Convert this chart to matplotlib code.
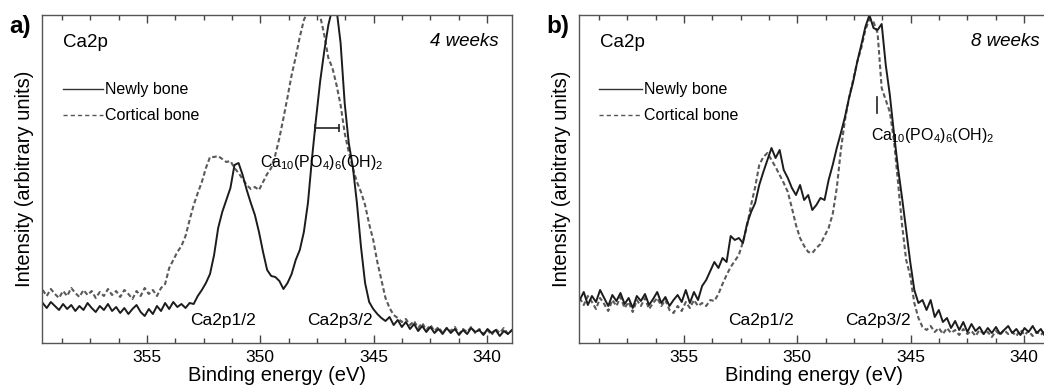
import numpy as np
import matplotlib
matplotlib.use("Agg")
import matplotlib.pyplot as plt
from matplotlib.ticker import MultipleLocator, AutoMinorLocator, NullLocator

plt.rcParams['font.family'] = ['Liberation Sans', 'DejaVu Sans']
plt.rcParams['mathtext.fontset'] = 'custom'
plt.rcParams['mathtext.rm'] = 'Liberation Sans'
plt.rcParams['mathtext.it'] = 'Liberation Sans:italic'
plt.rcParams['mathtext.bf'] = 'Liberation Sans:bold'

# binding energy grid of the scans (eV), constant step of 0.18 eV
energy = np.linspace(359.6, 338.9, 116)

# intensities (arbitrary units)
newly_4w = [
    40, 35, 41, 37, 33, 39, 34, 38, 32, 37, 33, 40,
    35, 31, 37, 33, 39, 32, 36, 30, 35, 29, 34, 38,
    31, 27, 34, 29, 37, 32, 40, 34, 41, 36, 39, 35,
    40, 39, 47, 53, 60, 69, 88, 115, 131, 143, 155, 178,
    180, 168, 153, 140, 128, 111, 91, 73, 67, 66, 62, 54,
    60, 69, 83, 93, 111, 140, 185, 225, 262, 292, 318, 335,
    334, 300, 240, 200, 176, 140, 96, 60, 41, 34, 29, 25,
    22, 26, 18, 23, 16, 21, 14, 19, 12, 17, 11, 16,
    10, 14, 9, 15, 10, 14, 8, 13, 9, 15, 11, 13,
    8, 14, 10, 13, 7, 12, 9, 13,
]
cortical_4w = [
    53, 47, 54, 49, 45, 52, 47, 55, 50, 46, 53, 48,
    52, 45, 51, 47, 54, 48, 52, 46, 53, 49, 44, 52,
    47, 55, 49, 53, 47, 55, 59, 75, 83, 91, 97, 107,
    123, 138, 150, 161, 175, 186, 186, 187, 184, 181, 182, 175,
    170, 164, 158, 154, 156, 153, 161, 169, 175, 188, 205, 225,
    246, 268, 286, 306, 323, 332, 334, 331, 327, 308, 285, 275,
    258, 238, 210, 191, 175, 161, 151, 138, 119, 103, 81, 63,
    45, 35, 28, 25, 21, 24, 18, 22, 15, 20, 13, 18,
    12, 16, 10, 15, 12, 16, 9, 14, 11, 16, 10, 14,
    9, 13, 8, 14, 10, 15, 9, 13,
]
newly_8w = [
    43, 51, 38, 47, 41, 53, 45, 37, 48, 42, 50, 39,
    45, 35, 47, 42, 49, 38, 44, 51, 40, 46, 37, 43,
    48, 41, 53, 40, 51, 43, 57, 63, 72, 81, 75, 85,
    81, 107, 103, 105, 100, 119, 131, 140, 158, 171, 183, 195,
    185, 193, 173, 165, 155, 148, 158, 143, 148, 133, 138, 145,
    143, 163, 178, 195, 210, 226, 245, 261, 281, 298, 316, 328,
    315, 313, 319, 278, 248, 210, 175, 145, 113, 81, 53, 40,
    43, 33, 43, 26, 33, 21, 25, 15, 22, 13, 21, 11,
    19, 12, 16, 9, 15, 10, 16, 9, 13, 17, 10, 14,
    8, 15, 11, 17, 10, 14, 7, 12,
]
cortical_8w = [
    45, 38, 47, 41, 34, 45, 39, 32, 43, 37, 46, 35,
    41, 31, 43, 37, 45, 34, 40, 45, 37, 43, 33, 30,
    37, 32, 41, 35, 43, 37, 40, 37, 43, 42, 49, 59,
    68, 76, 82, 88, 101, 117, 138, 156, 178, 186, 190, 183,
    176, 168, 160, 151, 135, 118, 105, 97, 91, 90, 95, 99,
    107, 115, 129, 155, 193, 223, 245, 263, 281, 295, 313, 324,
    321, 310, 255, 243, 231, 203, 161, 118, 83, 67, 40, 25,
    16, 13, 17, 11, 15, 9, 15, 10, 13, 8, 14, 9,
    12, 7, 13, 9, 11, 6, 12, 8, 13, 9, 11, 7,
    13, 8, 12, 7, 11, 8, 12, 8,
]

panel_letters = ['a)', 'b)']
panel_times = ['4 weeks', '8 weeks']
series_labels = ['Newly bone', 'Cortical bone']
peak_labels = ['Ca2p1/2', 'Ca2p3/2']
hap_label = (r'Ca$_{\mathrm{10}}$(PO$_{\mathrm{4}}$)$_{\mathrm{6}}$'
             r'(OH)$_{\mathrm{2}}$')
hap_range_4w = [347.6, 346.55]   # horizontal marker, 4 weeks
hap_level_4w = 215
hap_pos_8w = 346.5               # vertical marker, 8 weeks
hap_span_8w = [230, 246]
x_major = 5

SOLID = dict(color='#1c1c1c', lw=1.4, ls='-')
DASHED = dict(color='#5a5a5a', lw=1.5, ls=(0, (2.2, 1.3)))


def style_axes(ax):
    ax.set_xlim(359.63, 338.9)
    ax.set_ylim(0, 328)
    ax.xaxis.set_major_locator(MultipleLocator(x_major))
    ax.xaxis.set_minor_locator(AutoMinorLocator(4))
    ax.yaxis.set_major_locator(NullLocator())
    ax.tick_params(axis='x', which='both', direction='in', top=True,
                   bottom=True, labelsize=12.5, pad=5, color='#444444')
    ax.tick_params(axis='x', which='major', length=6, width=1)
    ax.tick_params(axis='x', which='minor', length=3.5, width=1)
    for s in ax.spines.values():
        s.set_color('#555555')
        s.set_linewidth(1.0)
    ax.set_xlabel('Binding energy (eV)', fontsize=14.5, labelpad=1)
    ax.set_ylabel('Intensity (arbitrary units)', fontsize=14.5, labelpad=6)


def draw_panel(fig, ax, idx, newly, cortical, p12_x, p32_x):
    style_axes(ax)
    ax.plot(energy, cortical, **DASHED)
    ax.plot(energy, newly, **SOLID)

    tr = ax.transAxes
    ax.text(0.045, 0.915, 'Ca2p', transform=tr, fontsize=13.5,
            ha='left', va='center')
    ax.text(0.972 if idx == 0 else 0.981, 0.918, panel_times[idx],
            transform=tr, fontsize=13.5, style='italic',
            ha='right', va='center')

    # hand-drawn legend
    x0 = 0.045 if idx == 0 else 0.043
    x1 = 0.130 if idx == 0 else 0.134
    ax.plot([x0, x1], [0.774, 0.774], transform=tr, color='#333333', lw=1.0)
    ax.plot([x0, x1], [0.695, 0.695], transform=tr, color='#555555',
            lw=1.0, ls=(0, (3.0, 2.2)))
    ax.text(x1 + 0.005, 0.774, series_labels[0], transform=tr,
            fontsize=11.5, ha='left', va='center')
    ax.text(x1 + 0.005, 0.695, series_labels[1], transform=tr,
            fontsize=11.5, ha='left', va='center')

    ax.text(p12_x, 0.07, peak_labels[0], transform=tr, fontsize=12.5,
            ha='left', va='center')
    ax.text(p32_x, 0.07, peak_labels[1], transform=tr, fontsize=12.5,
            ha='left', va='center')

    fig.text(ax.get_position().x0 - 0.031, 0.932, panel_letters[idx],
             fontsize=17.5, fontweight='bold', ha='left', va='center')


fig = plt.figure(figsize=(10.44, 3.87), dpi=100)
ax1 = fig.add_axes([42 / 1044, 44 / 387, 470 / 1044, 328 / 387])
ax2 = fig.add_axes([579 / 1044, 44 / 387, 470 / 1044, 328 / 387])

draw_panel(fig, ax1, 0, newly_4w, cortical_4w, 0.315, 0.564)
draw_panel(fig, ax2, 1, newly_8w, cortical_8w, 0.317, 0.566)

# hydroxyapatite position markers
ax1.plot(hap_range_4w, [hap_level_4w] * 2, color='#222222', lw=1.2,
         marker='|', markersize=6, markeredgewidth=1.2)
ax1.text(0.464, 0.549, hap_label, transform=ax1.transAxes, fontsize=11.5,
         ha='left', va='center')
ax2.plot([hap_pos_8w] * 2, hap_span_8w, color='#222222', lw=1.2)
ax2.text(0.621, 0.634, hap_label, transform=ax2.transAxes, fontsize=11.5,
         ha='left', va='center')

fig.savefig('out.png', dpi=100)
